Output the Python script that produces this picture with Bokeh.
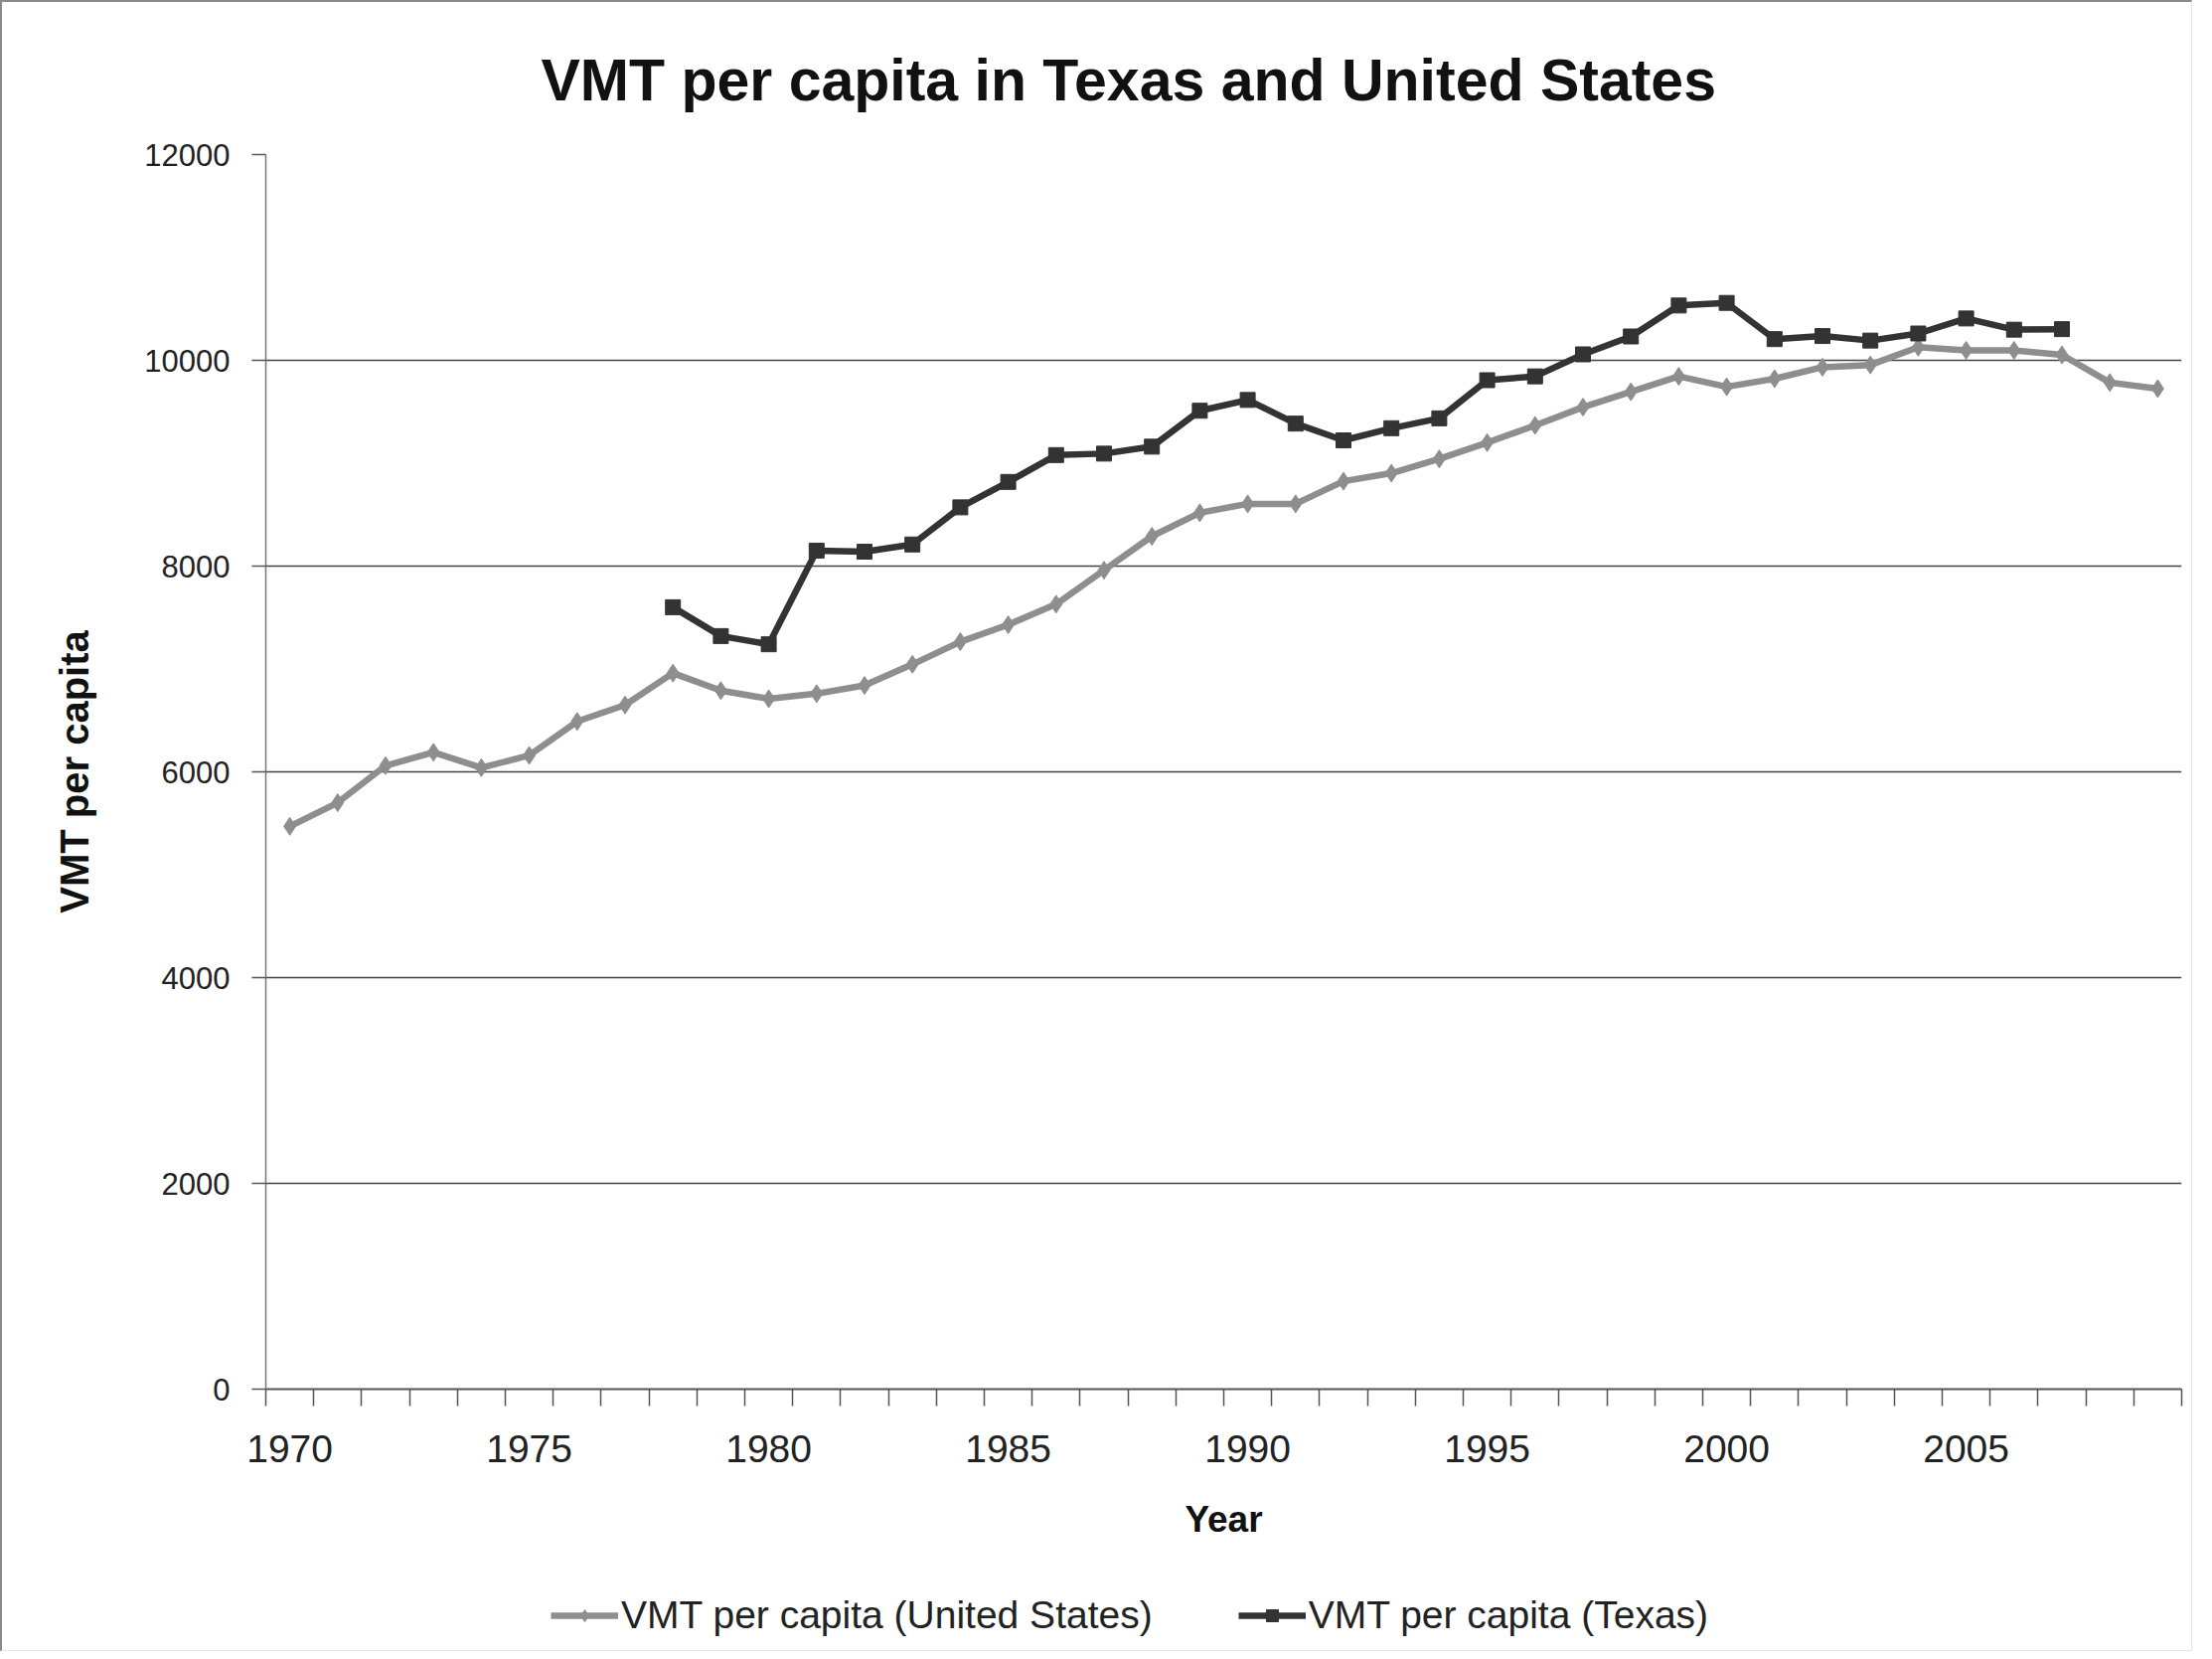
from bokeh.plotting import figure
from bokeh.layouts import column
from bokeh.models import FixedTicker, Legend, LegendItem, Range1d
from bokeh.embed import file_html
from bokeh.resources import INLINE

# ---- data ----
us_years = list(range(1970, 2010))
us_vmt = [5470, 5700, 6060, 6190, 6040, 6160, 6490, 6650, 6960, 6790,
          6710, 6760, 6840, 7045, 7265, 7430, 7630, 7960, 8290, 8518,
          8605, 8605, 8825, 8903, 9042, 9200, 9367, 9545, 9694, 9844,
          9743, 9821, 9933, 9955, 10128, 10097, 10097, 10053, 9784, 9725]
tx_years = list(range(1978, 2008))
tx_vmt = [7600, 7320, 7240, 8150, 8140, 8210, 8571, 8818, 9079, 9093,
          9161, 9510, 9615, 9385, 9222, 9340, 9436, 9807, 9844, 10058,
          10232, 10533, 10558, 10206, 10236, 10192, 10261, 10407, 10298, 10303]
x_tick_labels = [1970, 1975, 1980, 1985, 1990, 1995, 2000, 2005]
y_ticks = [0, 2000, 4000, 6000, 8000, 10000, 12000]
title_text = "VMT per capita in Texas and United States"
x_title = "Year"
y_title = "VMT per capita"
us_label = "VMT per capita (United States)"
tx_label = "VMT per capita (Texas)"

FONT = "Liberation Sans"
W = 2203
H1 = 1578
H2 = 80
US_COLOR = "#8e8e8e"
TX_COLOR = "#333333"

p = figure(width=W, height=H1, output_backend="svg", toolbar_location=None,
           x_range=Range1d(1969.5, 2009.5), y_range=Range1d(0, 12000),
           min_border_left=265, min_border_right=10, min_border_top=153,
           min_border_bottom=183, title=title_text)
p.outline_line_color = None
p.background_fill_color = "white"
p.border_fill_color = "white"

# title
p.title.text_font = FONT
p.title.text_font_size = "59px"
p.title.text_font_style = "bold"
p.title.text_color = "#111111"
p.title.align = "left"
p.title.offset = 277
p.title.standoff = 84

# x axis
xa = p.xaxis[0]
xa.ticker = FixedTicker(ticks=x_tick_labels,
                        minor_ticks=[y + 0.5 for y in range(1969, 2010)])
xa.major_tick_out = 0
xa.major_tick_in = 0
xa.minor_tick_out = 17
xa.minor_tick_in = 0
xa.minor_tick_line_color = "#555555"
xa.minor_tick_line_width = 1.5
xa.axis_line_color = "#555555"
xa.axis_line_width = 2
xa.major_label_text_font = FONT
xa.major_label_text_font_size = "39px"
xa.major_label_text_color = "#222222"
xa.major_label_standoff = 29
xa.axis_label = x_title
xa.axis_label_text_font = FONT
xa.axis_label_text_font_size = "37px"
xa.axis_label_text_font_style = "bold"
xa.axis_label_text_color = "#111111"
xa.axis_label_standoff = 34

# y axis
ya = p.yaxis[0]
ya.ticker = FixedTicker(ticks=y_ticks, minor_ticks=[])
ya.major_tick_out = 14
ya.major_tick_in = 0
ya.major_tick_line_color = "#555555"
ya.major_tick_line_width = 1.5
ya.minor_tick_out = 0
ya.axis_line_color = "#777777"
ya.axis_line_width = 1.5
ya.major_label_text_font = FONT
ya.major_label_text_font_size = "31px"
ya.major_label_text_color = "#222222"
ya.major_label_standoff = 22
ya.axis_label = y_title
ya.axis_label_text_font = FONT
ya.axis_label_text_font_size = "40px"
ya.axis_label_text_font_style = "bold"
ya.axis_label_text_color = "#111111"
ya.axis_label_standoff = 45

# grid
p.xgrid.visible = False
p.ygrid.ticker = FixedTicker(ticks=y_ticks)
p.ygrid.grid_line_color = "#444444"
p.ygrid.grid_line_width = 1.5

p.line(us_years, us_vmt, line_color=US_COLOR, line_width=6.5)
p.scatter(us_years, us_vmt, marker="diamond", size=18,
          fill_color=US_COLOR, line_color=US_COLOR)
p.line(tx_years, tx_vmt, line_color=TX_COLOR, line_width=6.5)
p.scatter(tx_years, tx_vmt, marker="square", size=15,
          fill_color=TX_COLOR, line_color=TX_COLOR)

# ---- legend strip (separate figure so it is not clipped) ----
q = figure(width=W, height=H2, output_backend="svg", toolbar_location=None,
           x_range=Range1d(0, 1), y_range=Range1d(0, 1),
           x_axis_location=None, y_axis_location=None,
           min_border_left=0, min_border_right=0, min_border_top=0,
           min_border_bottom=0)
q.grid.visible = False
q.outline_line_color = None
q.background_fill_color = "white"
q.border_fill_color = "white"
lu = q.line([0, 1], [-5, -5], line_color=US_COLOR, line_width=6.5)
su = q.scatter([0.5], [-5], marker="diamond", size=18,
               fill_color=US_COLOR, line_color=US_COLOR)
lt = q.line([0, 1], [-5, -5], line_color=TX_COLOR, line_width=6.5)
st = q.scatter([0.5], [-5], marker="square", size=15,
               fill_color=TX_COLOR, line_color=TX_COLOR)
legend = Legend(items=[LegendItem(label=us_label, renderers=[lu, su]),
                       LegendItem(label=tx_label, renderers=[lt, st])],
                orientation="horizontal", location=(287, 13),
                glyph_width=68, glyph_height=30, label_standoff=3, spacing=86,
                padding=0, margin=0, border_line_color=None,
                background_fill_alpha=0,
                label_text_font=FONT, label_text_font_size="39px",
                label_text_color="#222222")
q.add_layout(legend, "center")

layout = column(p, q, spacing=0)
layout.styles = {"border-left": "2px solid #8a8a8a", "border-top": "2px solid #8a8a8a",
                 "border-right": "1px solid #e4e4e4", "border-bottom": "1px solid #e4e4e4"}

open("out.html", "w").write(file_html(layout, INLINE))
